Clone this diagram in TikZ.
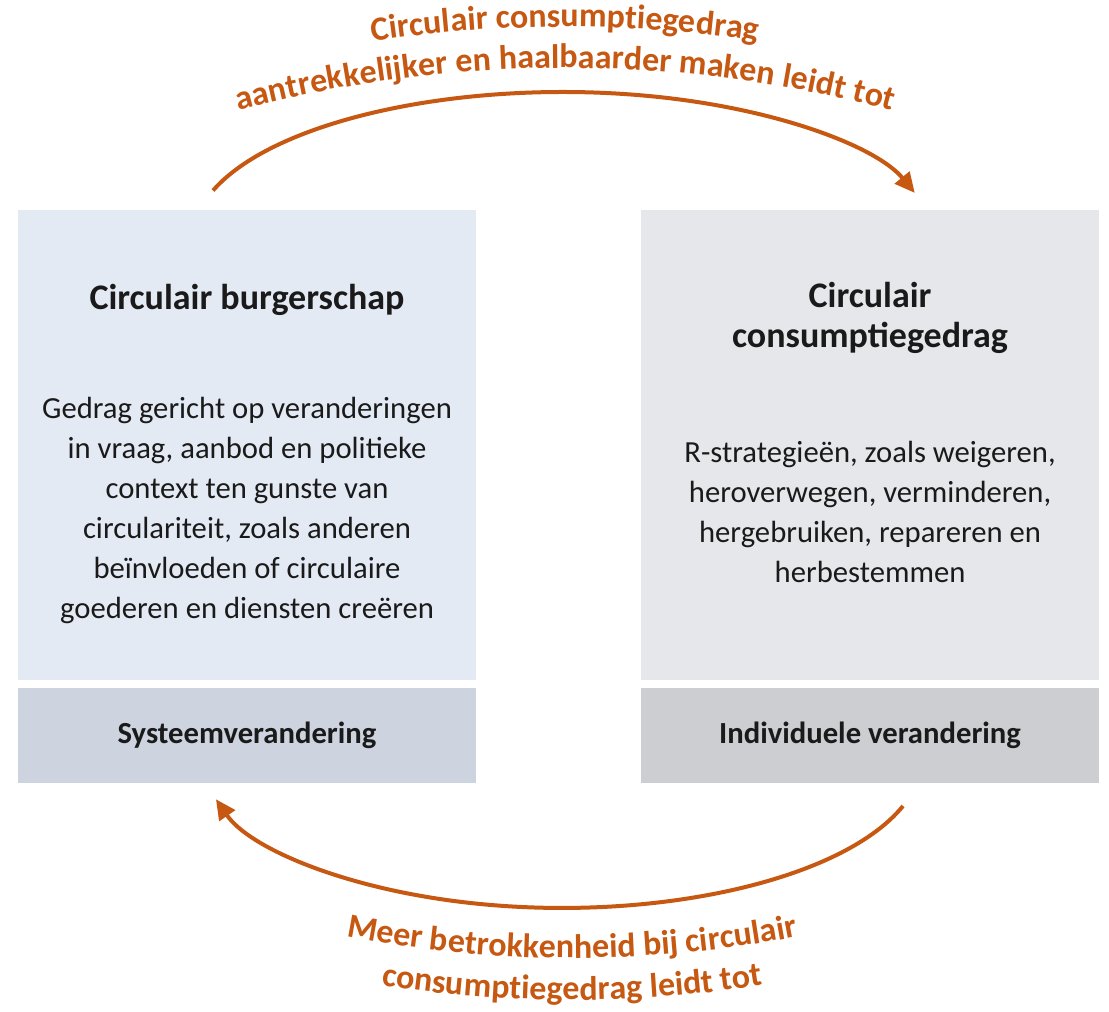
\documentclass[tikz,border=0pt]{standalone}
\usepackage{fontspec}
\setmainfont{Carlito}
\usetikzlibrary{arrows.meta,decorations.text}
\definecolor{flowc}{RGB}{198,88,18}
\definecolor{inkc}{RGB}{26,26,26}
\definecolor{panelblue}{RGB}{228,234,244}
\definecolor{panelgrey}{RGB}{229,231,234}
\definecolor{barblue}{RGB}{205,212,223}
\definecolor{bargrey}{RGB}{204,206,210}
\begin{document}
\begin{tikzpicture}[x=0.75pt,y=-0.75pt,
  panel/.style={minimum width=343.5pt,minimum height=352.5pt,inner sep=0pt},
  bar/.style={minimum width=343.5pt,minimum height=71.25pt,inner sep=0pt,text=inkc,font=\fontsize{23}{26}\selectfont\bfseries},
  head/.style={align=center,text=inkc,font=\fontsize{27}{30}\selectfont\bfseries},
  body/.style={align=center,text=inkc,font=\fontsize{23}{30}\selectfont},
  flow/.style={draw=flowc,line width=3pt,-{Triangle[length=15pt,width=14pt]}},
  curvetext/.style={decorate,decoration={text along path,text align=center,
    text format delimiters={|}{|},text={|\fontsize{25.5}{25.5}\selectfont\bfseries\color{flowc}|#1}}}]
\path[use as bounding box,fill=white] (0,0) rectangle (1109,1012);

% Panels
\node[panel,fill=panelblue] (burger) at (247,445) {};
\node[panel,fill=panelgrey] (consument) at (870,445) {};
\node[bar,fill=barblue] (systeem) at (247,735.5) {Systeemverandering};
\node[bar,fill=bargrey] (individu) at (870,735.5) {Individuele verandering};

% Text Node
\node[head] (burgertitle) at (247,300) {Circulair burgerschap};
\node[body] (burgertext) at (247,510) {Gedrag gericht op veranderingen\\in vraag, aanbod en politieke\\context ten gunste van\\circulariteit, zoals anderen\\beïnvloeden of circulaire\\goederen en diensten creëren};
% Text Node
\node[head] (consumenttitle) at (870,318) {Circulair\\consumptiegedrag};
\node[body] (consumenttext) at (870,512) {R-strategieën, zoals weigeren,\\heroverwegen, verminderen,\\hergebruiken, repareren en\\herbestemmen};

% Arrows
\coordinate (topfrom) at (213,190.5);
\draw[flow] (topfrom) arc[start angle=199,end angle=342,x radius=370,y radius=146];
\coordinate (botfrom) at (903,806);
\draw[flow] (botfrom) arc[start angle=18.7,end angle=164,x radius=360,y radius=150];

% Arrow labels
\coordinate (topc) at (565,1344);
\coordinate (botc) at (572,-234);
\path[curvetext={Circulair consumptiegedrag}] (topc) ++(250:1317) arc[start angle=250,end angle=290,radius=1317];
\path[curvetext={aantrekkelijker en haalbaarder maken leidt tot}] (topc) ++(250:1276) arc[start angle=250,end angle=290,radius=1276];
\path[curvetext={Meer betrokkenheid bij circulair}] (botc) ++(110:1192) arc[start angle=110,end angle=70,radius=1192];
\path[curvetext={consumptiegedrag leidt tot}] (botc) ++(110:1234) arc[start angle=110,end angle=70,radius=1234];
\end{tikzpicture}
\end{document}
